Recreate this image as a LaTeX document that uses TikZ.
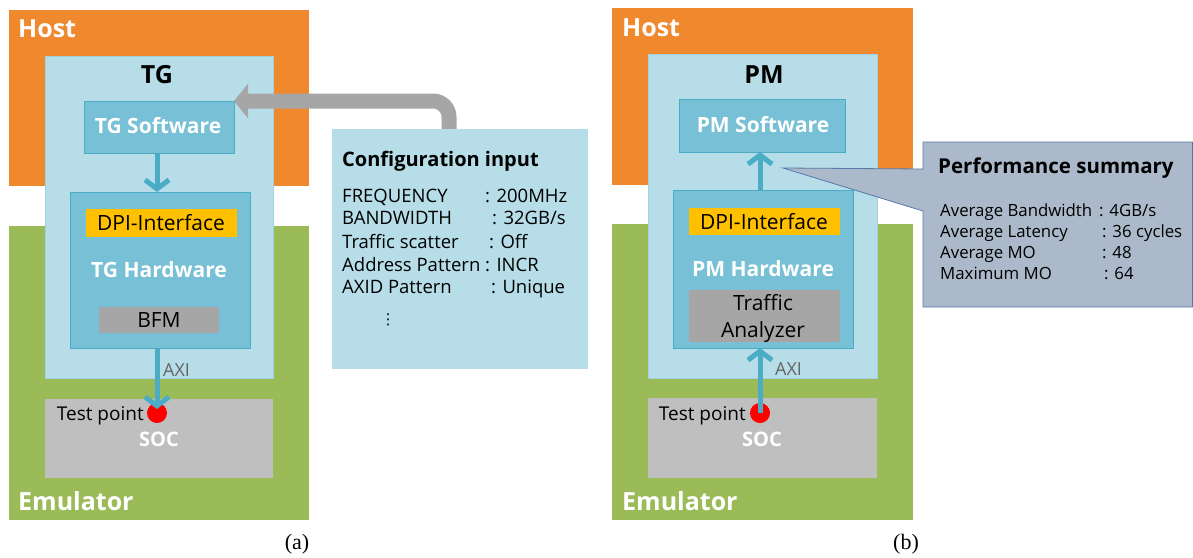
\documentclass[tikz,border=0pt]{standalone}
\usepackage{fontspec}
\setmainfont{Open Sans}
\newfontfamily\capfont{Liberation Serif}
\newfontfamily\symfont{DejaVu Sans}
\usetikzlibrary{arrows.meta,calc}

\definecolor{hostorange}{RGB}{240,136,46}
\definecolor{emugreen}{RGB}{155,187,89}
\definecolor{paleblue}{RGB}{183,221,232}
\definecolor{paleedge}{RGB}{160,210,225}
\definecolor{midblue}{RGB}{120,192,213}
\definecolor{edgeblue}{RGB}{75,172,198}
\definecolor{dpiyellow}{RGB}{255,192,0}
\definecolor{bfmgray}{RGB}{166,166,166}
\definecolor{socgray}{RGB}{191,191,191}
\definecolor{pipegray}{RGB}{166,166,166}
\definecolor{calloutfill}{RGB}{172,185,202}
\definecolor{calloutedge}{RGB}{84,122,170}
\definecolor{axigray}{RGB}{100,100,100}

\newcommand\fsz[2]{\fontsize{#1}{#2}\selectfont}
% rectangle from (x1,y1) to (x2,y2): name, style, x1, y1, x2, y2
\newcommand\areabox[6]{\node[region,#2,minimum width={#5-#3},minimum height={#6-#4}] (#1) at (#3,#4) {};}

\tikzset{
  region/.style={rectangle,anchor=north west,inner sep=0pt,outer sep=0pt},
  host/.style={fill=hostorange},
  emu/.style={fill=emugreen},
  container/.style={fill=paleblue,draw=paleedge,line width=1pt},
  swbox/.style={fill=midblue,draw=edgeblue,line width=1pt},
  dpi/.style={fill=dpiyellow},
  bfm/.style={fill=bfmgray},
  soc/.style={fill=socgray},
  cfgbox/.style={fill=paleblue},
  bigwhite/.style={text=white,font=\bfseries\fsz{25}{30},inner sep=0pt},
  title/.style={text=black,font=\bfseries\fsz{25}{30},inner sep=0pt,anchor=base},
  swtext/.style={text=white,font=\bfseries\fsz{21}{25},inner sep=0pt,anchor=base},
  plain/.style={text=black,font=\fsz{21}{27},inner sep=0pt,anchor=base},
  axitext/.style={text=axigray,font=\fsz{18}{22},inner sep=0pt,anchor=base west},
  tptext/.style={text=black,font=\fsz{19}{23},inner sep=0pt,anchor=base east},
  soctext/.style={text=white,font=\bfseries\fsz{20}{24},inner sep=0pt,anchor=base},
  cfgtitle/.style={text=black,font=\bfseries\fsz{20}{24},inner sep=0pt,anchor=base west},
  cfgline/.style={text=black,font=\fsz{18.5}{22},inner sep=0pt,anchor=base west},
  perftitle/.style={text=black,font=\bfseries\fsz{20.5}{24},inner sep=0pt,anchor=base west},
  perfline/.style={text=black,font=\fsz{16.8}{20},inner sep=0pt,anchor=base west},
  caption/.style={text=black,font=\capfont\fsz{22}{26},inner sep=0pt,anchor=base},
  testdot/.style={circle,fill=red,minimum size=20pt,inner sep=0pt},
  flow/.style={draw=edgeblue,line width=5pt,-{Straight Barb[length=9pt,width=24pt]}},
  pipe/.style={draw=pipegray,line width=15pt,rounded corners=16pt,-{Triangle[length=14pt,width=34pt]}},
}

\begin{document}
\begin{tikzpicture}[x=1pt,y=-1pt]
\useasboundingbox (0,0) rectangle (1193,557);

% ---------------- (a) traffic generator ----------------
\areabox{hostA}{host}{9}{10}{309}{186}
\areabox{emuA}{emu}{9}{226}{309}{520}
\areabox{tg}{container}{45}{56}{273}{378}
\areabox{tgsw}{swbox}{84}{101}{234}{153}
\areabox{tghw}{swbox}{70}{192}{250}{348}
\areabox{dpiA}{dpi}{86}{209}{237}{237}
\areabox{bfm}{bfm}{99}{307}{219}{333}
\areabox{socA}{soc}{45}{399}{273}{478}
\node[testdot] (tpA) at (157,413) {};

\draw[flow] (tgsw.south -| 157,0) -- (tghw.north -| 157,0);
\draw[flow] (tghw.south -| 157,0) -- ($(tpA.center)+(0,-4)$);

\node[bigwhite,anchor=base west] (hostAlbl) at (18,37) {Host};
\node[bigwhite,anchor=base west] (emuAlbl) at (18,510) {Emulator};
\node[title] (tglbl) at (157,83) {TG};
\node[swtext] (tgswlbl) at (158,133) {TG Software};
\node[plain] (dpiAlbl) at (161,230) {DPI-Interface};
\node[swtext] (tghwlbl) at (159,277) {TG Hardware};
\node[plain] (bfmlbl) at (159,327) {BFM};
\node[axitext] (axiA) at (163,376) {AXI};
\node[tptext] (tpAlbl) at (144,420) {Test point};
\node[soctext] (socAlbl) at (159,446) {SOC};
\node[caption] (capA) at (297,549) {(a)};

% configuration input fed to the TG software
\draw[pipe] (449,130) |- (tgsw.north east);
\areabox{cfg}{cfgbox}{332}{129}{588}{369}

\node[cfgtitle] (cfgttl) at (342,166) {Configuration input};
\node[cfgline] (k1) at (342,202) {FREQUENCY};
\node[cfgline] (v1) at (485,202) {: 200MHz};
\node[cfgline] (k2) at (342,224) {BANDWIDTH};
\node[cfgline] (v2) at (492,224) {: 32GB/s};
\node[cfgline] (k3) at (342,248) {Traffic scatter};
\node[cfgline] (v3) at (489,248) {: Off};
\node[cfgline] (k4) at (342,271) {Address Pattern};
\node[cfgline] (v4) at (485,271) {: INCR};
\node[cfgline] (k5) at (342,293) {AXID Pattern};
\node[cfgline] (v5) at (491,293) {: Unique};
\node[text=black,font=\symfont\fsz{15}{18},inner sep=0pt] (more) at (388,320) {⋮};

% ---------------- (b) performance monitor ----------------
\areabox{hostB}{host}{612}{8}{913}{185}
\areabox{emuB}{emu}{612}{224}{913}{520}
\areabox{pm}{container}{648}{54}{877}{378}
\areabox{pmsw}{swbox}{679}{99}{845}{152}
\areabox{pmhw}{swbox}{673}{190}{853}{348}
\areabox{dpiB}{dpi}{689}{208}{840}{235}
\areabox{ta}{bfm}{689}{290}{840}{342}
\areabox{socB}{soc}{648}{398}{877}{478}
\node[testdot] (tpB) at (760,413) {};

\draw[flow] (tpB.center) -- (pmhw.south -| 760,0);
\draw[flow] (pmhw.north -| 760,0) -- (pmsw.south -| 760,0);

\node[bigwhite,anchor=base west] (hostBlbl) at (622,36) {Host};
\node[bigwhite,anchor=base west] (emuBlbl) at (622,510) {Emulator};
\node[title] (pmlbl) at (764,83) {PM};
\node[swtext] (pmswlbl) at (763,132) {PM Software};
\node[plain] (dpiBlbl) at (764,229) {DPI-Interface};
\node[swtext] (pmhwlbl) at (763,276) {PM Hardware};
\node[plain] (ta1) at (763,310) {Traffic};
\node[plain] (ta2) at (763,337) {Analyzer};
\node[axitext] (axiB) at (775,375) {AXI};
\node[tptext] (tpBlbl) at (746,420) {Test point};
\node[soctext] (socBlbl) at (762,446) {SOC};
\node[caption] (capB) at (906,549) {(b)};

% performance summary callout pointing at the software link
\coordinate (ptr) at (783,168);
\draw[fill=calloutfill,draw=calloutedge,line width=0.8pt]
  (923,142) -- (1192.5,142) -- (1192.5,307) -- (923,307) -- (923,211) -- (ptr) -- (923,169) -- cycle;
\node[perftitle] (perfttl) at (938,173) {Performance summary};
\node[perfline] (p1) at (940,216) {Average Bandwidth};
\node[perfline] (q1) at (1099,216) {: 4GB/s};
\node[perfline] (p2) at (940,237) {Average Latency};
\node[perfline] (q2) at (1102,237) {: 36 cycles};
\node[perfline] (p3) at (940,258) {Average MO};
\node[perfline] (q3) at (1102,258) {: 48};
\node[perfline] (p4) at (940,279) {Maximum MO};
\node[perfline] (q4) at (1104,279) {: 64};
\end{tikzpicture}
\end{document}
